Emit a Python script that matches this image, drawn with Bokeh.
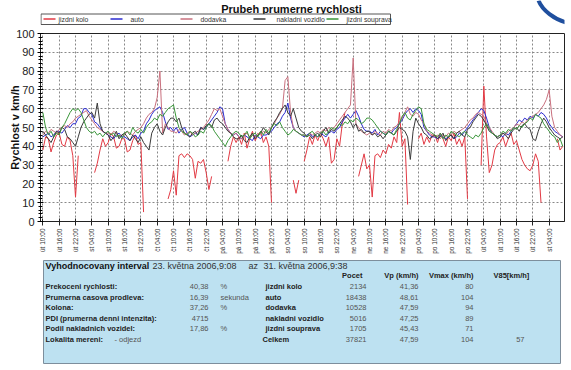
import math
import numpy as np
from bokeh.plotting import figure
from bokeh.layouts import column
from bokeh.models import Range1d, FixedTicker, SingleIntervalTicker
from bokeh.embed import file_html
from bokeh.resources import INLINE
from bokeh.core.properties import value

nan = float("nan")
FONT = "Liberation Sans"

title_text = "Prubeh prumerne rychlosti"
y_title = "Rychlost v km/h"
series_names = ["jizdni kolo", "auto", "dodavka", "nakladni vozidlo", "jizdni souprava"]
series_colors = ["#e23a44", "#2b2bd0", "#c9707e", "#3a3a3a", "#3a963a"]

# time axis: hours since Tuesday 00:00, hourly values (each row = 24 h from 10:00)
hours = [10 + j for j in range(192)]

jizdni_kolo = [
    38, 45, 44, 37, 42, 46, 47, 41, 40, 45, 43, 35, 13, 35, nan, nan, nan, nan, nan, 26, 31, 38, 44, 40,
    42, 47, 45, 39, 40, 44, 44, 37, 38, 43, 46, 41, 42, 5, nan, nan, nan, nan, nan, nan, nan, nan, 12, 17,
    27, 14, 35, 36, 34, 36, 35, 33, 23, 32, 31, 33, 26, 17, 24, nan, nan, nan, nan, nan, 32, 40, 45, 42,
    45, 41, 47, 39, 44, 48, 43, 46, 48, 42, 45, 40, 10, nan, nan, nan, nan, nan, nan, nan, 22, 15, 22, nan,
    32, 38, 45, 41, 46, 43, 47, 44, 40, 45, 31, 33, 44, 40, 52, 58, nan, nan, nan, nan, 24, 30, 36, 28,
    30, 13, 35, 36, 34, 38, 36, 41, 39, 45, 42, 58, 40, 44, 9, nan, nan, nan, 44, 47, 41, 45, 42, 46,
    46, 42, 47, 44, 40, 45, 43, 47, 41, 44, 40, 45, 12, nan, nan, nan, nan, 30, 72, 45, 26, 30, 38, 41,
    42, 45, 40, 44, 47, 41, 43, 38, 33, 30, 28, 27, 30, 36, 32, 10, nan, nan, nan, nan, nan, 44, 38, 40,
]
auto = [
    45, 46, 47, 45, 46, 48, 48, 47, 49, 51, 50, 52, 52, 55, 56, 60, 60, 58, 57, 53, 52, 50, 48, 47,
    46, 45, 44, 46, 47, 45, 45, 44, 43, 45, 46, 44, 47, 48, 52, 54, 57, 59, 60, 61, 58, 53, 49, 50,
    48, 50, 47, 49, 50, 47, 45, 46, 47, 46, 50, 49, 50, 52, 54, 56, 58, 61, 60, 52, 49, 47, 46, 47,
    45, 44, 46, 45, 44, 43, 46, 45, 44, 46, 46, 47, 48, 50, 52, 53, 56, 58, 63, 55, 50, 48, 47, 46,
    45, 46, 47, 45, 46, 45, 47, 46, 45, 47, 48, 47, 49, 50, 53, 55, 57, 55, 57, 59, 56, 52, 49, 48,
    48, 47, 49, 46, 48, 47, 46, 48, 47, 49, 50, 52, 54, 57, 59, 60, 58, 60, 59, 57, 50, 48, 46, 45,
    45, 44, 46, 45, 44, 45, 46, 44, 45, 47, 46, 48, 50, 52, 54, 56, 58, 60, 59, 55, 50, 47, 46, 45,
    46, 45, 47, 46, 48, 50, 52, 54, 53, 55, 54, 56, 55, 57, 56, 58, 57, 55, 52, 50, 48, 47, 46, 45,
]
dodavka = [
    46, 48, 47, 49, 48, 47, 49, 50, 51, 50, 52, 53, 55, 56, 57, 58, 59, 56, 54, 52, 50, 49, 48, 47,
    47, 46, 48, 47, 45, 46, 46, 48, 47, 46, 48, 49, 50, 52, 55, 57, 58, 60, 66, 80, 47, 52, 50, 48,
    48, 47, 49, 48, 46, 47, 48, 46, 47, 48, 49, 50, 52, 54, 57, 60, 59, 60, 56, 52, 49, 47, 46, 47,
    45, 44, 46, 47, 45, 46, 45, 47, 46, 48, 47, 49, 50, 52, 55, 57, 60, 75, 77, 58, 50, 48, 47, 46,
    46, 45, 47, 46, 47, 48, 47, 49, 48, 50, 49, 50, 52, 54, 56, 58, 60, 62, 87, 52, 50, 48, 47, 46,
    47, 46, 48, 47, 46, 48, 47, 49, 48, 50, 51, 53, 55, 58, 61, 57, 56, 58, 57, 54, 52, 48, 47, 46,
    45, 46, 44, 46, 45, 47, 46, 48, 47, 48, 49, 50, 52, 54, 55, 57, 58, 57, 56, 52, 50, 48, 46, 45,
    46, 47, 46, 48, 49, 50, 52, 51, 53, 52, 54, 55, 56, 57, 58, 60, 62, 65, 70, 56, 50, 48, 46, 45,
]
nakladni_vozidlo = [
    48, 46, 44, 42, 45, 48, 47, 50, 49, 45, 44, 42, 40, 45, 50, 53, 55, 57, 58, 55, 63, 52, 48, 47,
    46, 43, 45, 48, 44, 46, 47, 45, 43, 46, 44, 42, 45, 42, 40, 38, 47, 50, 52, 48, 46, 50, 53, 55,
    55, 53, 55, 50, 47, 46, 45, 47, 48, 46, 50, 49, 51, 52, 50, 54, 55, 53, 52, 50, 48, 47, 45, 44,
    44, 46, 43, 42, 45, 47, 44, 46, 47, 50, 48, 46, 50, 53, 55, 58, 60, 62, 58, 56, 60, 55, 50, 48,
    47, 45, 46, 44, 46, 47, 45, 48, 50, 47, 49, 48, 50, 52, 54, 56, 55, 53, 50, 52, 48, 49, 47, 48,
    48, 46, 47, 45, 46, 44, 46, 48, 47, 46, 48, 50, 49, 48, 45, 33, 48, 55, 52, 50, 47, 46, 44, 45,
    46, 44, 45, 47, 43, 45, 46, 44, 47, 48, 46, 45, 49, 50, 53, 55, 57, 56, 54, 51, 48, 47, 46, 44,
    45, 47, 46, 44, 47, 49, 50, 48, 51, 52, 50, 49, 44, 43, 48, 52, 55, 53, 50, 48, 46, 45, 44, 45,
]
jizdni_souprava = [
    58, 50, 46, 48, 45, 47, 46, 50, 52, 55, 58, 60, 59, 60, 58, 54, 50, 48, 47, 48, 46, 47, 45, 47,
    48, 46, 47, 45, 46, 44, 47, 48, 46, 50, 48, 47, 49, 47, 50, 52, 53, 55, 54, 57, 56, 58, 60, 61,
    62, 55, 50, 48, 47, 46, 48, 47, 45, 46, 48, 47, 50, 52, 51, 48, 46, 44, 42, 40, 43, 45, 47, 48,
    47, 45, 46, 48, 44, 46, 47, 45, 48, 46, 49, 47, 50, 52, 51, 53, 50, 48, 46, 47, 49, 48, 47, 46,
    46, 45, 47, 48, 46, 45, 47, 48, 46, 48, 50, 49, 50, 52, 51, 53, 52, 54, 53, 55, 54, 52, 53, 55,
    55, 54, 52, 50, 48, 47, 46, 48, 47, 46, 49, 52, 56, 58, 55, 54, 57, 59, 61, 60, 52, 49, 48, 47,
    46, 45, 47, 44, 46, 45, 48, 47, 46, 45, 47, 48, 46, 45, 44, 46, 45, 47, 50, 52, 49, 47, 46, 45,
    46, 48, 47, 49, 48, 50, 49, 51, 50, 52, 53, 55, 54, 57, 56, 55, 52, 50, 48, 46, 45, 42, 44, 40,
]

tick_hours = [10 + 6 * k for k in range(32)]
tick_labels = [
    "út 10:00", "út 16:00", "út 22:00", "st 04:00", "st 10:00", "st 16:00", "st 22:00",
    "čt 04:00", "čt 10:00", "čt 16:00", "čt 22:00", "pá 04:00", "pá 10:00", "pá 16:00",
    "pá 22:00", "so 04:00", "so 10:00", "so 16:00", "so 22:00", "ne 04:00", "ne 10:00",
    "ne 16:00", "ne 22:00", "po 04:00", "po 10:00", "po 16:00", "po 22:00", "út 04:00",
    "út 10:00", "út 16:00", "út 22:00", "st 04:00",
]
x_start, x_end = 9.133, 201.633

# summary table
interval_title = "Vyhodnocovany interval"
interval_from = "23. května 2006,9:08"
interval_sep = "az"
interval_to = "31. května 2006,9:38"
left_labels = ["Prekoceni rychlosti:", "Prumerna casova prodleva:", "Kolona:",
               "PDI (prumerna denni intenzita):", "Podil nakladnich vozidel:"]
left_values = ["40,38", "16,39", "37,26", "4715", "17,86"]
left_units = ["%", "sekunda", "%", "", "%"]
lokalita_label = "Lokalita mereni:"
lokalita_value = "- odjezd"
col_headers = ["Pocet", "Vp (km/h)", "Vmax (km/h)", "V85[km/h]"]
class_names = series_names + ["Celkem"]
pocet = ["2134", "18438", "10528", "5016", "1705", "37821"]
vp = ["41,36", "48,61", "47,59", "47,25", "45,43", "47,59"]
vmax = ["80", "104", "94", "89", "71", "104"]
v85 = ["", "", "", "", "", "57"]

W = 571
BL, BR = 40, 7          # left/right borders shared by the column (frames are aligned)
PX0, PX1 = BL, W - BR   # page-pixel span of every frame

# ---------------- header (title + legend) ----------------
HH = 26
hdr = figure(width=W, height=HH, x_range=Range1d(PX0, PX1), y_range=Range1d(HH, 0),
             x_axis_location=None, y_axis_location=None,
             min_border_left=BL, min_border_right=BR, min_border_top=0, min_border_bottom=0,
             output_backend="svg", toolbar_location=None)
hdr.grid.visible = False
hdr.outline_line_color = None
hdr.text(x=[291], y=[8], text=[title_text], text_font=value(FONT), text_font_style="bold",
         text_font_size="11px", text_align="center", text_baseline="middle", text_color="#111111")
hdr.quad(left=[40.5], right=[390], top=[13.5], bottom=[24], fill_color="white", line_color="#555555", line_width=1)
sw_x0 = [43, 110, 180, 253, 326]
txt_x = [58, 130, 200, 276, 346]
hdr.segment(x0=sw_x0, y0=[18.5] * 5, x1=[x + 12 for x in sw_x0], y1=[18.5] * 5,
            line_color=series_colors, line_width=1.5)
hdr.text(x=txt_x, y=[18.5] * 5, text=series_names, text_font=value(FONT), text_font_size="6.8px",
         text_align="left", text_baseline="middle", text_color="#333333")
hdr.bezier(x0=[538], y0=[0], x1=[566], y1=[22], cx0=[542], cy0=[10], cx1=[554], cy1=[19],
           line_color="#1f4f9e", line_width=4)

# ---------------- chart ----------------
p = figure(width=W, height=230, x_range=Range1d(x_start, x_end), y_range=Range1d(0, 100),
           min_border_left=BL, min_border_right=BR, min_border_top=7, min_border_bottom=34,
           output_backend="svg", toolbar_location=None)
p.outline_line_color = "#222222"
p.background_fill_color = "white"

series = [jizdni_kolo, auto, dodavka, nakladni_vozidlo, jizdni_souprava]
for vals, col in zip(series, series_colors):
    p.line(hours, np.array(vals, dtype=float), line_color=col, line_width=1)

p.xaxis.ticker = FixedTicker(ticks=tick_hours)
p.xaxis.major_label_overrides = {h: lbl for h, lbl in zip(tick_hours, tick_labels)}
p.xaxis.major_label_orientation = math.pi / 2
p.xaxis.major_label_text_font = FONT
p.xaxis.major_label_text_font_size = "6.5px"
p.xaxis.major_label_text_color = "#333333"
p.xaxis.major_tick_in = 3
p.xaxis.major_tick_out = 4
p.xaxis.major_label_standoff = 3
p.xaxis.minor_tick_line_color = None
p.xaxis.axis_line_color = "#222222"
p.xaxis.major_tick_line_color = "#222222"

p.yaxis.ticker = SingleIntervalTicker(interval=10, num_minor_ticks=5)
p.yaxis.major_label_text_font = FONT
p.yaxis.major_label_text_font_size = "11px"
p.yaxis.major_label_text_color = "#222222"
p.yaxis.major_tick_in = 3
p.yaxis.major_tick_out = 3
p.yaxis.minor_tick_in = 2
p.yaxis.minor_tick_out = 2
p.yaxis.major_label_standoff = 3
p.yaxis.axis_line_color = "#222222"
p.yaxis.axis_label = y_title
p.yaxis.axis_label_text_font = FONT
p.yaxis.axis_label_text_font_size = "11px"
p.yaxis.axis_label_text_font_style = "bold"
p.yaxis.axis_label_text_color = "#111111"
p.yaxis.axis_label_standoff = -8

p.xgrid.grid_line_color = "#888888"
p.xgrid.grid_line_dash = "2 2"
p.ygrid.grid_line_color = "#888888"
p.ygrid.grid_line_dash = "2 2"

# ---------------- table ----------------
TH = 114
t = figure(width=W, height=TH, x_range=Range1d(PX0, PX1), y_range=Range1d(TH, 0),
           x_axis_location=None, y_axis_location=None,
           min_border_left=BL, min_border_right=BR, min_border_top=0, min_border_bottom=0,
           output_backend="svg", toolbar_location=None)
t.grid.visible = False
t.outline_line_color = None
t.quad(left=[43], right=[560], top=[4], bottom=[107], fill_color="#bde1f1",
       line_color="#7d8e9c", line_width=1)


def txt(fig, xs, ys, texts, size, bold=False, align="left", color="#222222"):
    fig.text(x=xs, y=ys, text=texts, text_font=value(FONT), text_font_size=size,
             text_font_style="bold" if bold else "normal", text_align=align,
             text_baseline="middle", text_color=color)


row_y = [29.5, 40.5, 51, 61.7, 72, 83]
txt(t, [45], [9.5], [interval_title], "9px", bold=True, color="#111111")
txt(t, [152, 248, 263], [9.5] * 3, [interval_from, interval_sep, interval_to], "9px", color="#333333")
txt(t, [45] * 5, row_y[:5], left_labels, "7.5px", bold=True)
txt(t, [208] * 5, row_y[:5], left_values, "7.5px", align="right", color="#555555")
txt(t, [220] * 5, row_y[:5], left_units, "7.5px", color="#555555")
txt(t, [45], [row_y[5]], [lokalita_label], "7.5px", bold=True)
txt(t, [114], [row_y[5]], [lokalita_value], "7.5px", color="#555555")
txt(t, [362, 418, 473], [19] * 3, col_headers[:3], "7.5px", bold=True, align="right")
txt(t, [493], [19], col_headers[3:], "7.5px", bold=True)
txt(t, [265] * 5 + [262], row_y, class_names, "7.5px", bold=True)
txt(t, [366] * 6, row_y, pocet, "7.5px", align="right", color="#555555")
txt(t, [418] * 6, row_y, vp, "7.5px", align="right", color="#555555")
txt(t, [473] * 6, row_y, vmax, "7.5px", align="right", color="#555555")
txt(t, [524] * 6, row_y, v85, "7.5px", align="right", color="#555555")

layout = column(hdr, p, t)
open("out.html", "w").write(file_html(layout, INLINE))
